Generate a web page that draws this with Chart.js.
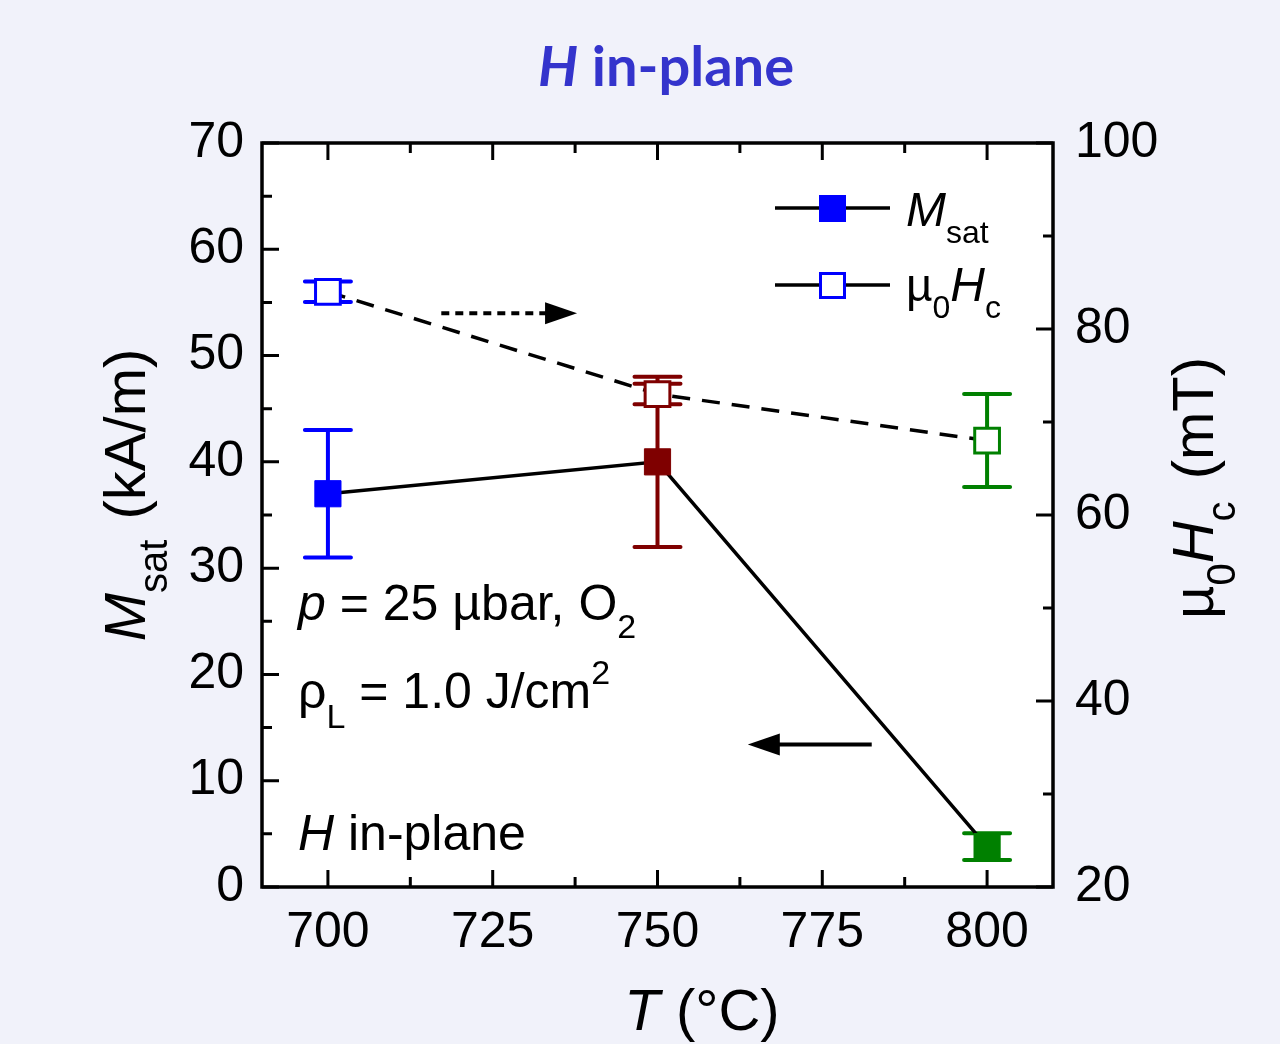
<!DOCTYPE html>
<html>
<head>
<meta charset="utf-8">
<script src="https://cdn.jsdelivr.net/npm/chart.js@4.4.0/dist/chart.umd.min.js"></script>
<style>
  html, body { margin: 0; padding: 0; background: #f1f2fa; }
  #wrap { width: 1280px; height: 1044px; }
</style>
</head>
<body>
<div id="wrap"><canvas id="chart" width="1280" height="1044"></canvas></div>
<script>
// data
const temperatures = [700, 750, 800]
const msatValues = [37, 40, 3.8]
const msatErrors = [6, 8, 1.25]
const hcValues = [84, 73, 68]
const hcErrors = [1.1, 1.1, 5]
const pointColors = ["#0000ff", "#7f0000", "#008000"]

const xTicks = [700, 725, 750, 775, 800]
const xMinorTicks = [712.5, 737.5, 762.5, 787.5]
const leftTicks = [0, 10, 20, 30, 40, 50, 60, 70]
const leftMinorTicks = [5, 15, 25, 35, 45, 55, 65]
const rightTicks = [20, 40, 60, 80, 100]
const rightMinorTicks = [30, 50, 70, 90]

// arrows pointing to the axis each curve belongs to (data units)
const hcArrow = {from: 717.2, to: 737.8, at: 81.7}
const msatArrow = {from: 782.5, to: 763.7, at: 13.4}

const sans = "'Liberation Sans', Arial, sans-serif"
const font = (size, italic) => (italic ? "italic " : "") + size + "px " + sans

function richWidth(ctx, parts) {
  let w = 0
  parts.forEach((p) => {
    ctx.font = p.font
    w += ctx.measureText(p.text).width + (p.gap || 0)
  })
  return w
}
function drawRich(ctx, x, y, parts) {
  let cx = x
  parts.forEach((p) => {
    ctx.font = p.font
    ctx.fillText(p.text, cx, y + (p.dy || 0))
    cx += ctx.measureText(p.text).width + (p.gap || 0)
  })
}

function arrowHead(ctx, x, y, dir) {
  ctx.beginPath()
  ctx.moveTo(x, y)
  ctx.lineTo(x - dir * 32, y - 11)
  ctx.lineTo(x - dir * 32, y + 11)
  ctx.closePath()
  ctx.fill()
}

const errorBars = {
  id: "errorBars",
  beforeDatasetsDraw(chart) {
    const ctx = chart.ctx
    const x = chart.scales.x
    const sets = [
      {scale: chart.scales.y, values: msatValues, errors: msatErrors},
      {scale: chart.scales.y2, values: hcValues, errors: hcErrors},
    ]
    ctx.save()
    ctx.lineWidth = 4
    ctx.lineCap = "round"
    sets.forEach((s) => {
      temperatures.forEach((t, i) => {
        const px = x.getPixelForValue(t)
        const top = s.scale.getPixelForValue(s.values[i] + s.errors[i])
        const bot = s.scale.getPixelForValue(s.values[i] - s.errors[i])
        ctx.strokeStyle = pointColors[i]
        ctx.beginPath()
        ctx.moveTo(px, top)
        ctx.lineTo(px, bot)
        ctx.moveTo(px - 23, top)
        ctx.lineTo(px + 23, top)
        ctx.moveTo(px - 23, bot)
        ctx.lineTo(px + 23, bot)
        ctx.stroke()
      })
    })
    ctx.restore()
  },
}

const decorations = {
  id: "decorations",
  beforeDraw(chart) {
    const {ctx, chartArea: a} = chart
    ctx.save()
    ctx.fillStyle = "#ffffff"
    ctx.fillRect(a.left, a.top, a.right - a.left, a.bottom - a.top)
    ctx.restore()
  },
  afterDatasetsDraw(chart) {
    const {ctx, chartArea: a} = chart
    const {x, y, y2} = chart.scales
    ctx.save()

    // frame and inward ticks
    ctx.strokeStyle = "#000"
    ctx.lineWidth = 3.5
    ctx.strokeRect(a.left, a.top, a.right - a.left, a.bottom - a.top)
    ctx.lineWidth = 3
    ctx.beginPath()
    const major = 17, minor = 10
    xTicks.concat(xMinorTicks).forEach((v) => {
      const px = x.getPixelForValue(v)
      const len = xTicks.includes(v) ? major : minor
      ctx.moveTo(px, a.bottom); ctx.lineTo(px, a.bottom - len)
      ctx.moveTo(px, a.top); ctx.lineTo(px, a.top + len)
    })
    leftTicks.concat(leftMinorTicks).forEach((v) => {
      const py = y.getPixelForValue(v)
      const len = leftTicks.includes(v) ? major : minor
      ctx.moveTo(a.left, py); ctx.lineTo(a.left + len, py)
    })
    rightTicks.concat(rightMinorTicks).forEach((v) => {
      const py = y2.getPixelForValue(v)
      const len = rightTicks.includes(v) ? major : minor
      ctx.moveTo(a.right, py); ctx.lineTo(a.right - len, py)
    })
    ctx.stroke()

    // arrows
    ctx.fillStyle = "#000"
    ctx.lineWidth = 4
    let ay = y2.getPixelForValue(hcArrow.at)
    let x0 = x.getPixelForValue(hcArrow.from), x1 = x.getPixelForValue(hcArrow.to)
    ctx.setLineDash([8, 6])
    ctx.beginPath(); ctx.moveTo(x0, ay); ctx.lineTo(x1 - 30, ay); ctx.stroke()
    ctx.setLineDash([])
    arrowHead(ctx, x1, ay, 1)
    ay = y.getPixelForValue(msatArrow.at)
    x0 = x.getPixelForValue(msatArrow.from); x1 = x.getPixelForValue(msatArrow.to)
    ctx.lineWidth = 4
    ctx.beginPath(); ctx.moveTo(x0, ay); ctx.lineTo(x1 + 30, ay); ctx.stroke()
    arrowHead(ctx, x1, ay, -1)

    // legend
    ctx.lineWidth = 3.5
    ;[208, 285].forEach((ly, i) => {
      ctx.beginPath(); ctx.moveTo(775, ly); ctx.lineTo(890, ly); ctx.stroke()
      ctx.strokeStyle = "#0000ff"
      ctx.lineWidth = 3
      ctx.fillStyle = i === 0 ? "#0000ff" : "#ffffff"
      ctx.fillRect(819, ly - 13, 27, 27)
      if (i === 1) ctx.strokeRect(820.5, ly - 11.5, 24, 24)
      ctx.strokeStyle = "#000"
      ctx.lineWidth = 3.5
    })
    ctx.fillStyle = "#000"
    ctx.textBaseline = "alphabetic"
    drawRich(ctx, 906, 226, [
      {text: "M", font: font(48, true)},
      {text: "sat", font: font(32), dy: 17},
    ])
    drawRich(ctx, 906, 301, [
      {text: "\u00b5", font: font(46)},
      {text: "0", font: font(32), dy: 17},
      {text: "H", font: font(48, true)},
      {text: "c", font: font(32), dy: 17},
    ])

    // notes inside the plot
    drawRich(ctx, 298, 620, [
      {text: "p", font: font(50, true)},
      {text: " = 25 \u00b5bar, O", font: font(50)},
      {text: "2", font: font(34), dy: 18},
    ])
    drawRich(ctx, 298, 708, [
      {text: "\u03c1", font: font(50)},
      {text: "L", font: font(34), dy: 20},
      {text: " = 1.0 J/cm", font: font(50)},
      {text: "2", font: font(34), dy: -24},
    ])
    drawRich(ctx, 298, 850, [
      {text: "H", font: font(50, true)},
      {text: " in-plane", font: font(50)},
    ])

    // axis titles
    const tParts = [
      {text: "T", font: font(58, true)},
      {text: " (\u00b0C)", font: font(58)},
    ]
    drawRich(ctx, 702 - richWidth(ctx, tParts) / 2, 1030, tParts)

    const lParts = [
      {text: "M", font: font(58, true)},
      {text: "sat", font: font(40), dy: 22, gap: 4},
      {text: " (kA/m)", font: font(58)},
    ]
    ctx.save()
    ctx.translate(145, 495)
    ctx.rotate(-Math.PI / 2)
    drawRich(ctx, -richWidth(ctx, lParts) / 2, 0, lParts)
    ctx.restore()

    const rParts = [
      {text: "\u00b5", font: font(58)},
      {text: "0", font: font(40), dy: 22},
      {text: "H", font: font(58, true)},
      {text: "c", font: font(40), dy: 22, gap: 6},
      {text: " (mT)", font: font(58)},
    ]
    ctx.save()
    ctx.translate(1213, 488)
    ctx.rotate(-Math.PI / 2)
    drawRich(ctx, -richWidth(ctx, rParts) / 2, 0, rParts)
    ctx.restore()

    // page title
    ctx.fillStyle = "#3434cc"
    const title = [
      {text: "H", font: "italic bold 56px Lato, sans-serif"},
      {text: " in-plane", font: "bold 56px Lato, sans-serif"},
    ]
    drawRich(ctx, 666 - richWidth(ctx, title) / 2, 86, title)

    ctx.restore()
  },
}

const tickFont = {family: sans, size: 50}

new Chart(document.getElementById("chart"), {
  type: "line",
  data: {
    datasets: [
      {
        label: "Msat",
        yAxisID: "y",
        data: temperatures.map((t, i) => ({x: t, y: msatValues[i]})),
        borderColor: "#000",
        borderWidth: 3.5,
        pointStyle: "rect",
        pointRadius: 18.5,
        pointBackgroundColor: pointColors,
        pointBorderColor: pointColors,
        pointBorderWidth: 1,
      },
      {
        label: "mu0Hc",
        yAxisID: "y2",
        data: temperatures.map((t, i) => ({x: t, y: hcValues[i]})),
        borderColor: "#000",
        borderWidth: 3.5,
        borderDash: [18, 12],
        pointStyle: "rect",
        pointRadius: 17.5,
        pointBackgroundColor: "#ffffff",
        pointBorderColor: pointColors,
        pointBorderWidth: 3,
      },
    ],
  },
  options: {
    responsive: false,
    animation: false,
    devicePixelRatio: 1,
    layout: {padding: {top: 143, left: 0, right: 0, bottom: 0}},
    plugins: {legend: {display: false}, tooltip: {enabled: false}},
    scales: {
      x: {
        type: "linear",
        min: 690,
        max: 810,
        afterBuildTicks: (s) => { s.ticks = xTicks.map((v) => ({value: v})) },
        afterFit: (s) => { s.height = 157 },
        grid: {display: false},
        border: {display: false},
        ticks: {font: tickFont, color: "#000", padding: 8, maxRotation: 0},
      },
      y: {
        position: "left",
        min: 0,
        max: 70,
        afterBuildTicks: (s) => { s.ticks = leftTicks.map((v) => ({value: v})) },
        afterFit: (s) => { s.width = 262 },
        grid: {display: false},
        border: {display: false},
        ticks: {font: tickFont, color: "#000", padding: 10},
      },
      y2: {
        position: "right",
        min: 20,
        max: 100,
        afterBuildTicks: (s) => { s.ticks = rightTicks.map((v) => ({value: v})) },
        afterFit: (s) => { s.width = 227 },
        grid: {display: false},
        border: {display: false},
        ticks: {font: tickFont, color: "#000", padding: 14},
      },
    },
  },
  plugins: [decorations, errorBars],
})
</script>
</body>
</html>
